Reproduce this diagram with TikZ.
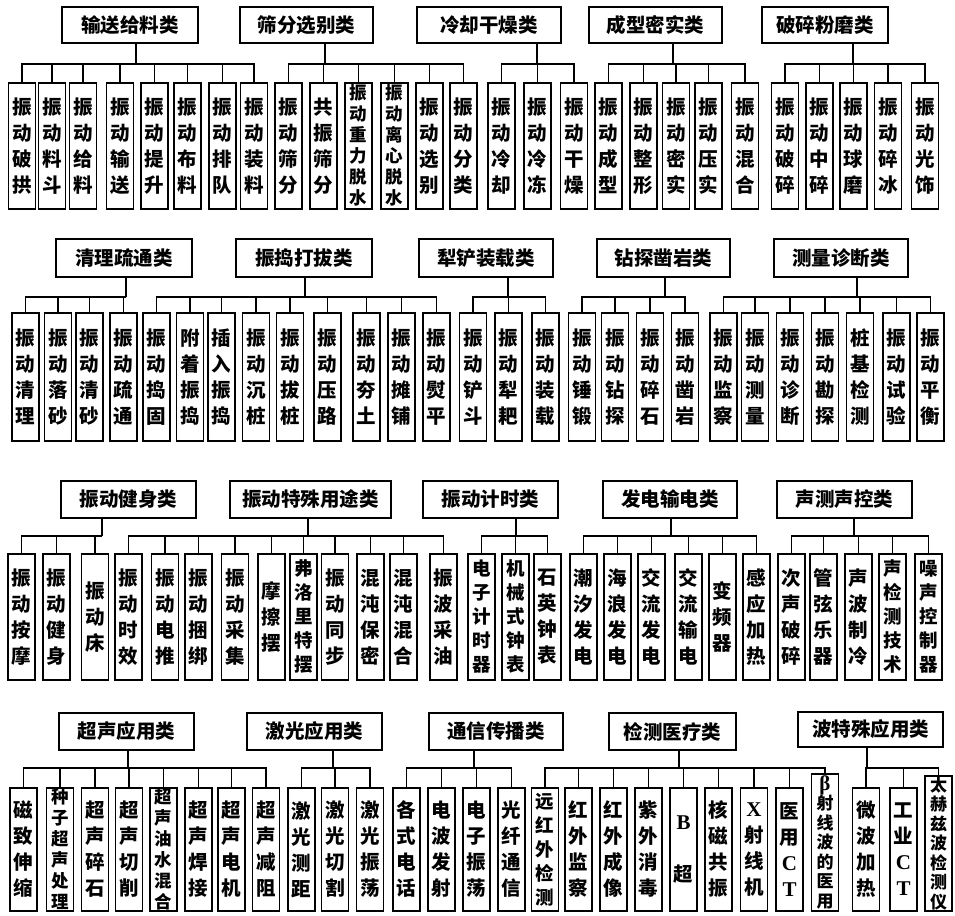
\documentclass[tikz,border=0pt]{standalone}
\usepackage{fontspec}
\setmainfont{Liberation Serif}
\newfontfamily\cjk{Noto Sans CJK SC}
\newcommand{\lat}[1]{{\rmfamily\bfseries\fontsize{21}{25}\selectfont #1}}
\begin{document}
\begin{tikzpicture}[x=1pt,y=-1pt,
  wire/.style={line width=1.6pt},
  hd/.style={draw,line width=1.7pt,inner sep=0pt,minimum height=36pt,font=\cjk\bfseries\fontsize{19.5}{22}\selectfont},
  ch/.style={draw,line width=1.7pt,inner sep=0pt,minimum width=27pt,anchor=north,align=center,font=\cjk\bfseries\fontsize{19.5}{26}\selectfont},
  ra/.style={ch,minimum height=126pt},
  rb/.style={ch,minimum height=128pt},
  rc/.style={ch,minimum height=126pt},
  rd/.style={ch,minimum height=123pt},
  f5/.style={font=\cjk\bfseries\fontsize{18.5}{24}\selectfont},
  f6/.style={font=\cjk\bfseries\fontsize{17.5}{21}\selectfont},
  f7/.style={font=\cjk\bfseries\fontsize{17}{19.5}\selectfont},
]
\useasboundingbox (0,0) rectangle (955,915);

% ---------------- Row 1 ----------------
\node[hd,minimum width=136pt] (hA) at (130,25) {输送给料类};
\node[hd,minimum width=133pt] (hB) at (306.5,25) {筛分选别类};
\node[hd,minimum width=144pt] (hC) at (489,25) {冷却干燥类};
\node[hd,minimum width=133pt] (hD) at (655.5,25) {成型密实类};
\node[hd,minimum width=126pt] (hE) at (825,25) {破碎粉磨类};

\node[ra] (a1) at (22,82) {振\\动\\破\\拱};
\node[ra] (a2) at (52,82) {振\\动\\料\\斗};
\node[ra] (a3) at (83,82) {振\\动\\给\\料};
\node[ra] (a4) at (120,82) {振\\动\\输\\送};
\node[ra] (a5) at (154.5,82) {振\\动\\提\\升};
\node[ra] (a6) at (187.5,82) {振\\动\\布\\料};
\node[ra] (a7) at (222.5,82) {振\\动\\排\\队};
\node[ra] (a8) at (254,82) {振\\动\\装\\料};

\node[ra] (b1) at (288.5,82) {振\\动\\筛\\分};
\node[ra] (b2) at (323.5,82) {共\\振\\筛\\分};
\node[ra,f6] (b3) at (358.5,82) {振\\动\\重\\力\\脱\\水};
\node[ra,f6] (b4) at (394.5,82) {振\\动\\离\\心\\脱\\水};
\node[ra] (b5) at (429.5,82) {振\\动\\选\\别};
\node[ra] (b6) at (463.5,82) {振\\动\\分\\类};

\node[ra] (c1) at (501.5,82) {振\\动\\冷\\却};
\node[ra] (c2) at (537.5,82) {振\\动\\冷\\冻};
\node[ra] (c3) at (574,82) {振\\动\\干\\燥};

\node[ra] (d1) at (608.5,82) {振\\动\\成\\型};
\node[ra] (d2) at (643.5,82) {振\\动\\整\\形};
\node[ra] (d3) at (676,82) {振\\动\\密\\实};
\node[ra] (d4) at (708.5,82) {振\\动\\压\\实};
\node[ra] (d5) at (745,82) {振\\动\\混\\合};

\node[ra] (e1) at (785,82) {振\\动\\破\\碎};
\node[ra] (e2) at (819.5,82) {振\\动\\中\\碎};
\node[ra] (e3) at (853.5,82) {振\\动\\球\\磨};
\node[ra] (e4) at (888,82) {振\\动\\碎\\冰};
\node[ra] (e5) at (925,82) {振\\动\\光\\饰};

\coordinate (sA) at (136,64);
\coordinate (sB) at (325,64);
\coordinate (sC) at (537,64);
\coordinate (sD) at (673,64);
\coordinate (sE) at (853,64);

% ---------------- Row 2 ----------------
\node[hd,minimum width=136pt,minimum height=38pt] (hF) at (124,258) {清理疏通类};
\node[hd,minimum width=136pt,minimum height=38pt] (hG) at (304,258) {振捣打拔类};
\node[hd,minimum width=134pt,minimum height=38pt] (hH) at (486,258) {犁铲装载类};
\node[hd,minimum width=133pt,minimum height=38pt] (hI) at (663.5,258) {钻探凿岩类};
\node[hd,minimum width=134pt,minimum height=38pt] (hJ) at (841,258) {测量诊断类};

\node[rb] (f1) at (25.5,312) {振\\动\\清\\理};
\node[rb] (f2) at (58,312) {振\\动\\落\\砂};
\node[rb] (f3) at (89.5,312) {振\\动\\清\\砂};
\node[rb] (f4) at (123.5,312) {振\\动\\疏\\通};

\node[rb] (g1) at (156.5,312) {振\\动\\捣\\固};
\node[rb] (g2) at (190,312) {附\\着\\振\\捣};
\node[rb] (g3) at (221.5,312) {插\\入\\振\\捣};
\node[rb] (g4) at (256,312) {振\\动\\沉\\桩};
\node[rb] (g5) at (290,312) {振\\动\\拔\\桩};
\node[rb] (g6) at (327.5,312) {振\\动\\压\\路};
\node[rb] (g7) at (366.5,312) {振\\动\\夯\\土};
\node[rb] (g8) at (401.5,312) {振\\动\\摊\\铺};
\node[rb] (g9) at (436.5,312) {振\\动\\熨\\平};

\node[rb] (i1) at (473,312) {振\\动\\铲\\斗};
\node[rb] (i2) at (508.5,312) {振\\动\\犁\\耙};
\node[rb] (i3) at (545.5,312) {振\\动\\装\\载};

\node[rb] (j1) at (582,312) {振\\动\\锤\\锻};
\node[rb] (j2) at (615,312) {振\\动\\钻\\探};
\node[rb] (j3) at (650,312) {振\\动\\碎\\石};
\node[rb] (j4) at (685,312) {振\\动\\凿\\岩};

\node[rb] (k1) at (723.5,312) {振\\动\\监\\察};
\node[rb] (k2) at (755,312) {振\\动\\测\\量};
\node[rb] (k3) at (790,312) {振\\动\\诊\\断};
\node[rb] (k4) at (825,312) {振\\动\\勘\\探};
\node[rb] (k5) at (860,312) {桩\\基\\检\\测};
\node[rb] (k6) at (896.5,312) {振\\动\\试\\验};
\node[rb] (k7) at (930.5,312) {振\\动\\平\\衡};

\coordinate (sF) at (126,297);
\coordinate (sG) at (305,297);
\coordinate (sH) at (508,297);
\coordinate (sI) at (665,297);
\coordinate (sJ) at (857,297);

% ---------------- Row 3 ----------------
\node[hd,minimum width=135pt,minimum height=37pt] (hK) at (128.5,499.5) {振动健身类};
\node[hd,minimum width=161pt,minimum height=37pt] (hL) at (310.5,499.5) {振动特殊用途类};
\node[hd,minimum width=135pt,minimum height=37pt] (hM) at (490.5,499.5) {振动计时类};
\node[hd,minimum width=134pt,minimum height=37pt] (hN) at (670,499.5) {发电输电类};
\node[hd,minimum width=135pt,minimum height=37pt] (hO) at (844.5,499.5) {声测声控类};

\node[rc] (m1) at (21.5,553) {振\\动\\按\\摩};
\node[rc] (m2) at (56.5,553) {振\\动\\健\\身};
\node[rc] (m3) at (95,553) {振\\动\\床};

\node[rc] (n1) at (128.5,553) {振\\动\\时\\效};
\node[rc] (n2) at (165,553) {振\\动\\电\\推};
\node[rc] (n3) at (198.5,553) {振\\动\\捆\\绑};
\node[rc] (n4) at (235,553) {振\\动\\采\\集};
\node[rc] (n5) at (271.5,553) {摩\\擦\\摆};
\node[rc,f5] (n6) at (303.5,553) {弗\\洛\\里\\特\\摆};
\node[rc] (n7) at (335,553) {振\\动\\同\\步};
\node[rc] (n8) at (370.5,553) {混\\沌\\保\\密};
\node[rc] (n9) at (403.5,553) {混\\沌\\混\\合};
\node[rc] (n10) at (443.5,553) {振\\波\\采\\油};

\node[rc,f5] (o1) at (481.5,553) {电\\子\\计\\时\\器};
\node[rc,f5] (o2) at (515.5,553) {机\\械\\式\\钟\\表};
\node[rc] (o3) at (547.5,553) {石\\英\\钟\\表};

\node[rc] (p1) at (583.5,553) {潮\\汐\\发\\电};
\node[rc] (p2) at (617.5,553) {海\\浪\\发\\电};
\node[rc] (p3) at (651.5,553) {交\\流\\发\\电};
\node[rc] (p4) at (688.5,553) {交\\流\\输\\电};
\node[rc] (p5) at (722.5,553) {变\\频\\器};
\node[rc] (p6) at (756.5,553) {感\\应\\加\\热};

\node[rc] (q1) at (791.5,553) {次\\声\\破\\碎};
\node[rc] (q2) at (823.5,553) {管\\弦\\乐\\器};
\node[rc] (q3) at (858.5,553) {声\\波\\制\\冷};
\node[rc,f5] (q4) at (892.5,553) {声\\检\\测\\技\\术};
\node[rc,f5] (q5) at (928.5,553) {噪\\声\\控\\制\\器};

\coordinate (sK) at (102,536);
\coordinate (sL) at (308,536);
\coordinate (sM) at (516,536);
\coordinate (sN) at (671,536);
\coordinate (sO) at (854,536);

% ---------------- Row 4 ----------------
\node[hd,minimum width=135pt,minimum height=37pt] (hP) at (126.5,731.5) {超声应用类};
\node[hd,minimum width=135pt,minimum height=37pt] (hQ) at (314.5,731.5) {激光应用类};
\node[hd,minimum width=134pt,minimum height=37pt] (hR) at (496,731.5) {通信传播类};
\node[hd,minimum width=127pt,minimum height=37pt] (hS) at (672.5,731.5) {检测医疗类};
\node[hd,minimum width=145pt,minimum height=35pt] (hT) at (870.5,729.5) {波特殊应用类};

\node[rd] (t1) at (23.5,787) {磁\\致\\伸\\缩};
\node[rd,f6] (t2) at (60,787) {种\\子\\超\\声\\处\\理};
\node[rd] (t3) at (95,787) {超\\声\\碎\\石};
\node[rd] (t4) at (129,787) {超\\声\\切\\削};
\node[rd,f6] (t5) at (163.5,787) {超\\声\\油\\水\\混\\合};
\node[rd] (t6) at (198.5,787) {超\\声\\焊\\接};
\node[rd] (t7) at (231.5,787) {超\\声\\电\\机};
\node[rd] (t8) at (266,787) {超\\声\\减\\阻};

\node[rd] (u1) at (301.5,787) {激\\光\\测\\距};
\node[rd] (u2) at (335,787) {激\\光\\切\\割};
\node[rd] (u3) at (370,787) {激\\光\\振\\荡};

\node[rd] (v1) at (406.5,787) {各\\式\\电\\话};
\node[rd] (v2) at (441.5,787) {电\\波\\发\\射};
\node[rd] (v3) at (476.5,787) {电\\子\\振\\荡};
\node[rd] (v4) at (511.5,787) {光\\纤\\通\\信};

\node[rd,f5] (w1) at (545,787) {远\\红\\外\\检\\测};
\node[rd] (w2) at (578.5,787) {红\\外\\监\\察};
\node[rd] (w3) at (613.5,787) {红\\外\\成\\像};
\node[rd] (w4) at (648.5,787) {紫\\外\\消\\毒};
\node[rd] (w5) at (683.5,787) {\lat{B}\\[26pt]超};
\node[rd] (w6) at (718.5,787) {核\\磁\\共\\振};
\node[rd] (w7) at (754,787) {\lat{X}\\射\\线\\机};
\node[rd] (w8) at (789.5,787) {医\\用\\\lat{C}\\\lat{T}};
\node[ch,f7,minimum height=137pt] (w9) at (825,773) {\lat{β}\\射\\线\\波\\的\\医\\用};

\node[rd] (x1) at (866,787) {微\\波\\加\\热};
\node[rd] (x2) at (903.5,787) {工\\业\\\lat{C}\\\lat{T}};
\node[ch,f7,minimum height=135pt] (x3) at (938.5,775) {太\\赫\\兹\\波\\检\\测\\仪};

\coordinate (sP) at (128,768);
\coordinate (sQ) at (333,768);
\coordinate (sR) at (474,768);
\coordinate (sS) at (679,768);
\coordinate (sT) at (867,768);

% ---------------- Connectors ----------------
\foreach \h/\s/\kids in {
  hA/sA/{a1,a2,a3,a4,a5,a6,a7,a8},
  hB/sB/{b1,b2,b3,b4,b5,b6},
  hC/sC/{c1,c2,c3},
  hD/sD/{d1,d2,d3,d4,d5},
  hE/sE/{e1,e2,e3,e4,e5},
  hF/sF/{f1,f2,f3,f4},
  hG/sG/{g1,g2,g3,g4,g5,g6,g7,g8,g9},
  hH/sH/{i1,i2,i3},
  hI/sI/{j1,j2,j3,j4},
  hJ/sJ/{k1,k2,k3,k4,k5,k6,k7},
  hK/sK/{m1,m2,m3},
  hL/sL/{n1,n2,n3,n4,n5,n6,n7,n8,n9,n10},
  hM/sM/{o1,o2,o3},
  hN/sN/{p1,p2,p3,p4,p5,p6},
  hO/sO/{q1,q2,q3,q4,q5},
  hP/sP/{t1,t2,t3,t4,t5,t6,t7,t8},
  hQ/sQ/{u1,u2,u3},
  hR/sR/{v1,v2,v3,v4},
  hS/sS/{w1,w2,w3,w4,w5,w6,w7,w8,w9},
  hT/sT/{x1,x2,x3}} {
  \draw[wire] (\h.south -| \s) -- (\s);
  \foreach \k in \kids { \draw[wire] (\s) -| (\k.north); }
}
\end{tikzpicture}
\end{document}
